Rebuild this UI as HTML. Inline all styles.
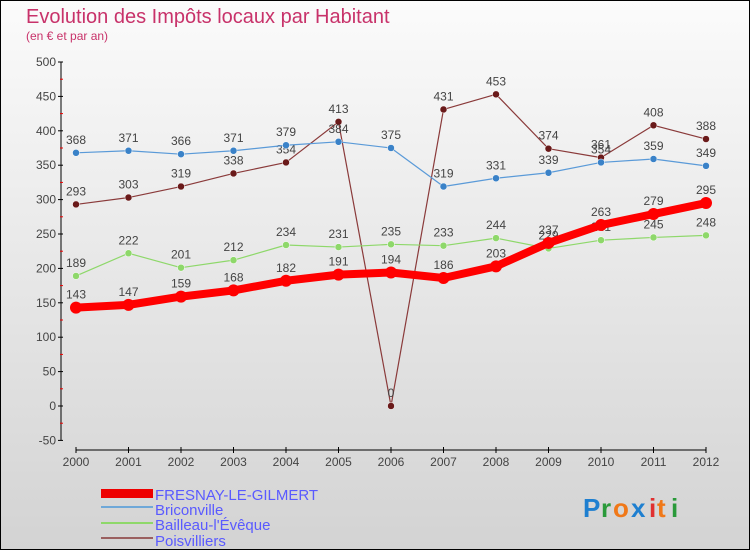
<!DOCTYPE html>
<html><head><meta charset="utf-8"><style>
body{margin:0;width:750px;height:550px;overflow:hidden;font-family:"Liberation Sans",sans-serif}
#wrap{position:relative;width:748px;height:548px;border:1px solid #000;background:linear-gradient(#fbfbfb,#d3d3d3)}
</style></head><body>
<div id="wrap">
<svg id="chart" width="748" height="548">
<text x="25" y="22" font-size="20" fill="#c8326a">Evolution des Impôts locaux par Habitant</text>
<text x="25" y="39" font-size="12" fill="#c8326a">(en € et par an)</text>
<g id="axes"></g><g id="series"></g>
<g>
<rect x="100" y="488" width="52" height="9" fill="#e00"/>
<text x="154" y="499" font-size="15" fill="#5a5aff">FRESNAY-LE-GILMERT</text>
<line x1="100" y1="506" x2="152" y2="506" stroke="#6fa8d8" stroke-width="2"/>
<text x="154" y="514" font-size="15" fill="#5a5aff">Briconville</text>
<line x1="100" y1="522" x2="152" y2="522" stroke="#8ed86a" stroke-width="2"/>
<text x="154" y="529" font-size="15" fill="#5a5aff">Bailleau-l'Évêque</text>
<line x1="100" y1="537" x2="152" y2="537" stroke="#9a6060" stroke-width="2"/>
<text x="154" y="545" font-size="15" fill="#5a5aff">Poisvilliers</text>
</g>
<g font-size="26" font-weight="bold">
<text x="582" y="516" fill="#1e7fd0">P</text><text x="600" y="516" fill="#2a9a3a">r</text><text x="612" y="516" fill="#f07818">o</text><text x="630" y="516" fill="#1e7fd0">x</text><text x="648" y="516" fill="#e03030">i</text><text x="656" y="516" fill="#f07818">t</text><text x="670" y="516" fill="#2a9a3a">i</text>
</g>
</svg></div>
<script>
const years=[2000,2001,2002,2003,2004,2005,2006,2007,2008,2009,2010,2011,2012];
const yTicks=[500,450,400,350,300,250,200,150,100,50,0,-50];
const fresnay=[143,147,159,168,182,191,194,186,203,237,263,279,295];
const briconville=[368,371,366,371,379,384,375,319,331,339,354,359,349];
const bailleau=[189,222,201,212,234,231,235,233,244,229,241,245,248];
const poisvilliers=[293,303,319,338,354,413,0,431,453,374,361,408,388];
const NS="http://www.w3.org/2000/svg";
const x=i=>75+i*52.5;
const y=v=>405-v*0.688;
function mk(t,a,p){const e=document.createElementNS(NS,t);for(const k in a)e.setAttribute(k,a[k]);p.appendChild(e);return e;}
const ax=document.getElementById('axes');
const yl=mk('line',{x1:60,y1:y(500),x2:60,y2:y(-50),stroke:'#000'},ax);


const xl=mk('line',{x1:75,y1:449,x2:705,y2:449,stroke:'#000'},ax);


yTicks.forEach(v=>{mk('line',{x1:57,y1:y(v),x2:62,y2:y(v),stroke:'#000'},ax);
const t=mk('text',{x:55,y:y(v)+4,'text-anchor':'end','font-size':12,fill:'#444'},ax);t.textContent=v;


if(v>-50)mk('line',{x1:59,y1:y(v-25),x2:62,y2:y(v-25),stroke:'#e00'},ax);});
years.forEach((yr,i)=>{mk('line',{x1:x(i),y1:446,x2:x(i),y2:452,stroke:'#000'},ax);
const t=mk('text',{x:x(i),y:465,'text-anchor':'middle','font-size':12,fill:'#444'},ax);t.textContent=yr;

});
const sg=document.getElementById('series');
function draw(vals,color,w,r,name,dot){
const g=mk('g',{},sg);


const p=mk('polyline',{points:vals.map((v,i)=>x(i)+','+y(v)).join(' '),fill:'none',stroke:color,'stroke-width':w,'stroke-linejoin':'round'},g);


vals.forEach((v,i)=>{const c=mk('circle',{cx:x(i),cy:y(v),r:r,fill:dot,stroke:'#fff','stroke-width':r>4?0:0.5},g);


const t=mk('text',{x:x(i),y:y(v)-9,'text-anchor':'middle','font-size':12,fill:'#444'},g);t.textContent=v;

});
}
draw(poisvilliers,'#8a3a3a',1.2,3.5,'series-poisvilliers','#6a1a1a');
draw(bailleau,'#8ed86a',1.2,3.5,'series-bailleau','#8ed86a');
draw(briconville,'#5a9ad8',1.2,3.5,'series-briconville','#3a82c8');
draw(fresnay,'#f00',8,6,'series-fresnay','#f00');
</script>
</body></html>
